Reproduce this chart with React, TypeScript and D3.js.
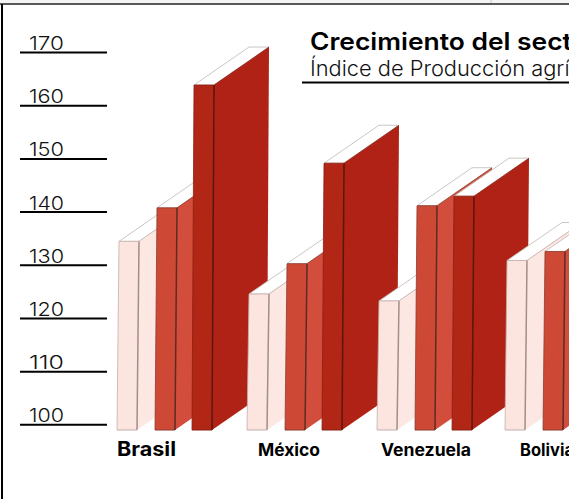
import React from "react";
import * as d3 from "d3";

const countries = ["Brasil", "México", "Venezuela", "Bolivia"];
const lightValues = [134.5, 124.6, 123.3, 130.9];
const midValues = [140.8, 130.3, 141.2, 132.6];
const darkValues = [163.9, 149.2, 143.0];
const tickValues = [100, 110, 120, 130, 140, 150, 160, 170];
const title = "Crecimiento del sector agrícola";
const subtitle = "Índice de Producción agrícola";

const W = 569, H = 499;
const y = d3.scaleLinear().domain([100, 170]).range([424.8, 52.6]);
const groupX = d3.scaleOrdinal<string, number>().domain(countries).range([117, 247, 377, 505]);
const labelX = d3.scaleOrdinal<string, number>().domain(countries).range([117, 258, 381, 520]);
const labelLen = d3.scaleOrdinal<string, number>().domain(countries).range([59, 62, 90, 54]);
const labelSize = d3.scaleOrdinal<string, number>().domain(countries).range([20, 17, 17, 17]);
const seriesOffset = d3.scaleOrdinal<string, number>().domain(["l", "m", "d"]).range([0, 38, 75]);
const baseY = 430;
const fw = 20, dx = 55, dy = -38, lean = 2;

const styles: Record<string, { front: string; side: string; edge: string; ridge: string }> = {
  l: { front: "#fce4df", side: "#fde7e2", edge: "#c4aea9", ridge: "#a08e8a" },
  m: { front: "#cd4a36", side: "#d24e3a", edge: "#8a3a2c", ridge: "#5e2a22" },
  d: { front: "#b22614", side: "#b02312", edge: "#8a2015", ridge: "#5a1610" },
};

function Bar({ x, v, k }: { x: number; v: number; k: string }) {
  const s = styles[k];
  const t = y(v);
  const xb = x + seriesOffset(k);
  const xt = xb + lean;
  const top = `M${xt},${t} L${xt + fw},${t} L${xt + fw + dx},${t + dy} L${xt + dx},${t + dy} Z`;
  const side = `M${xb + fw},${baseY} L${xb + fw + dx},${baseY + dy} L${xt + fw + dx},${t + dy} L${xt + fw},${t} Z`;
  const front = `M${xb},${baseY} L${xb + fw},${baseY} L${xt + fw},${t} L${xt},${t} Z`;
  return (
    <g>
      <path d={top} fill="#fff" stroke="#c4c0be" strokeWidth={0.9} />
      <path d={side} fill={s.side} />
      <path d={front} fill={s.front} />
      <line x1={xb} y1={baseY} x2={xt} y2={t} stroke={s.edge} strokeWidth={0.8} />
      <line x1={xb + fw} y1={baseY} x2={xt + fw} y2={t} stroke={s.ridge} strokeWidth={1.5} />
      <line x1={xb} y1={baseY} x2={xb + fw} y2={baseY} stroke={s.edge} strokeWidth={1} />
      <line x1={xt} y1={t} x2={xt + fw} y2={t} stroke={s.edge} strokeWidth={0.8} />
      <line x1={xt + fw} y1={t} x2={xt + fw + dx} y2={t + dy} stroke={s.edge} strokeWidth={0.7} />
    </g>
  );
}

export default function App() {
  const fam = "Inter, 'Noto Sans', sans-serif";
  return (
    <svg width={W} height={H} viewBox={`0 0 ${W} ${H}`} style={{ position: "absolute", left: 0, top: 0, background: "#fff" }}>
      <defs>
        <filter id="soft" x="-5%" y="-5%" width="110%" height="110%">
          <feGaussianBlur stdDeviation="0.6" />
        </filter>
      </defs>
      <rect x={0} y={0} width={W} height={3} fill="#f4f4f4" />
      <line x1={491} x2={491} y1={0} y2={4} stroke="#c8c8c8" />
      <line x1={0} x2={W} y1={4} y2={4} stroke="#222" strokeWidth={1.5} />
      <line x1={2} x2={2} y1={4} y2={H} stroke="#000" strokeWidth={2} />
      {tickValues.map((t) => (
        <g key={t}>
          <line x1={20} x2={107} y1={y(t)} y2={y(t)} stroke="#000" strokeWidth={2} />
          <text x={29} y={y(t) - 2.5} fontFamily={fam} fontSize={18.5} fontWeight={300} fill="#111" textLength={35} lengthAdjust="spacingAndGlyphs">{t}</text>
        </g>
      ))}
      <g filter="url(#soft)">
        {countries.map((c, i) => (
          <g key={c}>
            <Bar x={groupX(c)} v={lightValues[i]} k="l" />
            <Bar x={groupX(c)} v={midValues[i]} k="m" />
            {darkValues[i] !== undefined && <Bar x={groupX(c)} v={darkValues[i]} k="d" />}
          </g>
        ))}
      </g>
      {countries.map((c) => (
        <text key={c} x={labelX(c)} y={456} fontFamily={fam} fontSize={labelSize(c)} fontWeight={700} fill="#000" textLength={labelLen(c)} lengthAdjust="spacingAndGlyphs">{c}</text>
      ))}
      <text transform="translate(310,50) scale(1.1,1)" fontFamily={fam} fontSize={24} fontWeight={600} fill="#000">{title}</text>
      <text transform="translate(310,76) scale(1.04,1)" fontFamily={fam} fontSize={21} fontWeight={300} fill="#111">{subtitle}</text>
      <line x1={302} x2={W} y1={82.5} y2={82.5} stroke="#000" strokeWidth={2} />
    </svg>
  );
}
